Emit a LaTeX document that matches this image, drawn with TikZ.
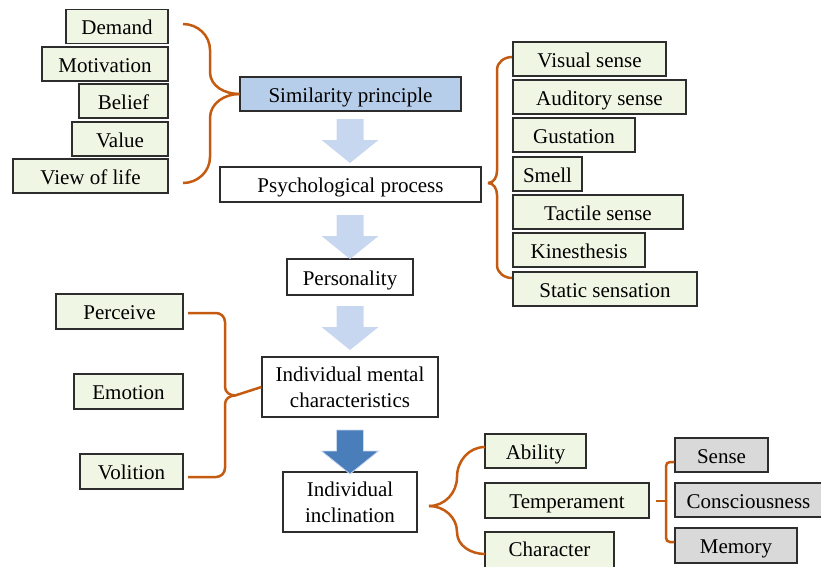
\documentclass[tikz,border=0pt]{standalone}
\usepackage{fontspec}
\setmainfont{Liberation Serif}
\definecolor{boxline}{RGB}{45,45,45}
\definecolor{gfill}{RGB}{239,247,228}
\definecolor{bfill}{RGB}{183,206,235}
\definecolor{greyfill}{RGB}{217,217,217}
\definecolor{lightarrow}{RGB}{200,215,240}
\definecolor{darkarrow}{RGB}{74,126,187}
\definecolor{bracecol}{RGB}{197,90,17}
\newcommand{\blockarrow}[2]{\path[#1] #2 ++(-13.5,0) -- ++(27,0) -- ++(0,21) -- ++(15,0) -- ++(-28.5,23) -- ++(-28.5,-23) -- ++(15,0) -- cycle;}
\begin{document}
\begin{tikzpicture}[x=1pt, y=-1pt,
  box/.style={shape=rectangle, draw=boxline, line width=1.1pt, minimum height=34pt, inner sep=0pt, align=center, text depth=0pt, font=\fontsize{21}{26}\selectfont},
  one/.style={box, text height=16pt},
  gbox/.style={one, fill=gfill},
  greybox/.style={one, fill=greyfill},
  wbox/.style={box, fill=white},
  brace/.style={draw=bracecol, line width=2.5pt}]
\useasboundingbox (0,0) rectangle (821,566);
\clip (0,0) rectangle (821,566);
\node[gbox, minimum width=102pt] (demand) at (117,26.5) {Demand};
\node[gbox, minimum width=126pt] (motiv) at (105,64) {Motivation};
\node[gbox, minimum width=89pt] (belief) at (123.5,101) {Belief};
\node[gbox, minimum width=96pt] (value) at (120,139) {Value};
\node[gbox, minimum width=155pt] (life) at (90.5,176) {View of life};
\node[one, fill=bfill, minimum width=221pt] (simil) at (350.5,94) {Similarity principle};
\node[one, fill=white, minimum width=261pt, minimum height=35pt] (psych) at (350.5,184.5) {Psychological process};
\node[one, fill=white, minimum width=126pt, minimum height=36pt] (pers) at (350,277) {Personality};
\node[wbox, minimum width=176pt, minimum height=60pt] (imc) at (350,387) {Individual mental\\characteristics};
\node[wbox, minimum width=134pt, minimum height=60pt] (incl) at (350,502) {Individual\\inclination};
\node[gbox, minimum width=153pt] (visual) at (589.5,59) {Visual sense};
\node[gbox, minimum width=173pt] (audit) at (599.5,97) {Auditory sense};
\node[gbox, minimum width=122pt] (gust) at (574,135) {Gustation};
\node[gbox, minimum width=69pt] (smell) at (547.5,174) {Smell};
\node[gbox, minimum width=170pt] (tact) at (598,212) {Tactile sense};
\node[gbox, minimum width=132pt] (kines) at (579,250) {Kinesthesis};
\node[gbox, minimum width=184pt] (static) at (605,289) {Static sensation};
\node[gbox, minimum width=127pt, minimum height=35pt] (perc) at (119.5,311.5) {Perceive};
\node[gbox, minimum width=109pt, minimum height=35pt] (emot) at (128.5,391.5) {Emotion};
\node[gbox, minimum width=103pt, minimum height=35pt] (volit) at (131.5,471.5) {Volition};
\node[gbox, minimum width=101pt] (abil) at (535.5,451) {Ability};
\node[gbox, minimum width=164pt, minimum height=35pt] (temper) at (567,500.5) {Temperament};
\node[gbox, minimum width=129pt, minimum height=44pt, text depth=10.6pt] (charac) at (549.5,554) {Character};
\node[greybox, minimum width=93pt] (sense) at (721.5,455) {Sense};
\node[greybox, minimum width=147pt] (consc) at (748.5,500) {Consciousness};
\node[greybox, minimum width=122pt, minimum height=35pt] (memory) at (736,545.5) {Memory};
\blockarrow{fill=lightarrow}{(350,119)}
\blockarrow{fill=lightarrow}{(350,215)}
\blockarrow{fill=lightarrow}{(350,306)}
\blockarrow{fill=darkarrow, draw=lightarrow, line width=0.8pt}{(350,430)}
\coordinate (b1a) at (183,24);
\coordinate (b1b) at (183,183);
\path[brace] (b1a) to[out=0, in=90] (210,50) -- (210,72) to[out=270, in=180] (simil.west);
\path[brace] (simil.west) to[out=180, in=90] (210,118) -- (210,157) to[out=270, in=0] (b1b);
\coordinate (b2tip) at (488,183);
\coordinate (b2a) at (512,57);
\coordinate (b2b) at (512,278);
\path[brace] (b2a) to[out=180, in=90] (497,70) -- (497,171) to[out=270, in=0] (b2tip);
\path[brace] (b2tip) to[out=0, in=90] (497,195) -- (497,265) to[out=270, in=180] (b2b);
\coordinate (b3a) at (188,313);
\coordinate (b3b) at (188,477);
\path[brace] (b3a) -- (216,313) to[out=0, in=90] (225,322) -- (225,387) to[out=270, in=180] (235,395.5) -- (imc.west);
\path[brace] (235,395.5) to[out=180, in=90] (225,404) -- (225,468) to[out=270, in=0] (216,477) -- (b3b);
\coordinate (b4tip) at (429,506);
\coordinate (b4a) at (485,447);
\coordinate (b4b) at (485,554);
\path[brace] (b4a) to[out=180, in=90] (457,477) to[out=270, in=0] (b4tip);
\path[brace] (b4tip) to[out=0, in=90] (457,532) to[out=270, in=180] (b4b);
\path[brace, rounded corners=4pt] (sense.west |- 0,462) -- (666,462) -- (666,542) -- (memory.west |- 0,542);
\path[brace] (656,501) -- (666,501);
\end{tikzpicture}
\end{document}
